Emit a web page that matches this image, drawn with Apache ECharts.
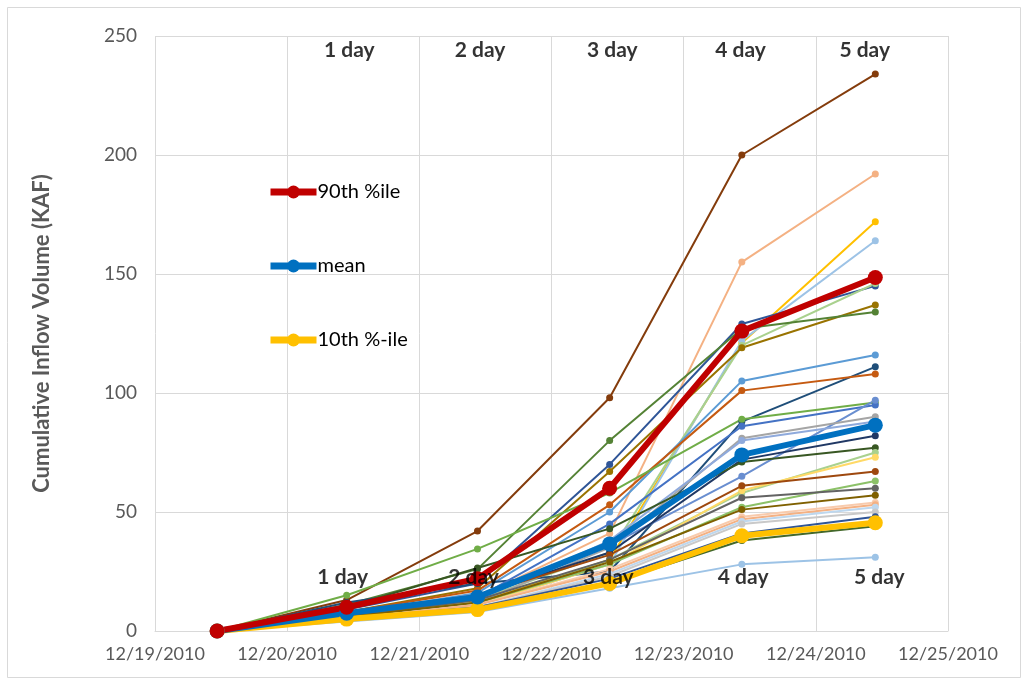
<!DOCTYPE html>
<html>
<head>
<meta charset="utf-8">
<script src="https://cdn.jsdelivr.net/npm/echarts@6/dist/echarts.min.js"></script>
<style>
  html, body { margin: 0; padding: 0; background: #fff; }
  #chart { width: 1029px; height: 685px; }
</style>
</head>
<body>
<div id="chart"></div>
<script>
// forecast times, in days after 12/19/2010 00:00
const xDays = [0.47, 1.45, 2.44, 3.44, 4.44, 5.45];
const dateLabels = ['12/19/2010', '12/20/2010', '12/21/2010', '12/22/2010', '12/23/2010', '12/24/2010', '12/25/2010'];

// ensemble members: cumulative inflow volume (KAF)
const members = [
  { color: '#843C0C', values: [0, 13, 42, 98, 200, 234] },
  { color: '#F4B183', values: [0, 6, 14, 41, 155, 192] },
  { color: '#FFC000', values: [0, 5, 12, 30, 121, 172] },
  { color: '#9DC3E6', values: [0, 5, 11, 28, 122, 164] },
  { color: '#2F5597', values: [0, 9, 20, 70, 129, 145] },
  { color: '#A9D18E', values: [0, 6, 13, 33, 120, 146] },
  { color: '#997300', values: [0, 8, 18, 67, 119, 137] },
  { color: '#548235', values: [0, 11, 26, 80, 127, 134] },
  { color: '#5B9BD5', values: [0, 7, 16, 50, 105, 116] },
  { color: '#1F4E79', values: [0, 12, 20, 25, 88, 111] },
  { color: '#C55A11', values: [0, 8, 17, 53, 101, 108] },
  { color: '#70AD47', values: [0, 15, 34.5, 58, 89, 96] },
  { color: '#4472C4', values: [0, 6, 14, 45, 86, 95] },
  { color: '#698ED0', values: [0, 6, 14, 36, 65, 97] },
  { color: '#A5A5A5', values: [0, 5, 12, 35, 81, 90] },
  { color: '#8FAADC', values: [0, 6, 13, 38, 80, 88] },
  { color: '#203864', values: [0, 7, 15, 33, 72, 82] },
  { color: '#385723', values: [0, 10, 26.5, 43, 71, 77] },
  { color: '#A9D18E', values: [0, 5, 11, 30, 58, 75] },
  { color: '#FFD966', values: [0, 5, 11, 28, 59, 73] },
  { color: '#9E480E', values: [0, 7, 15, 32, 61, 67] },
  { color: '#8CC168', values: [0, 6, 12, 28, 52, 63] },
  { color: '#636363', values: [0, 6, 13, 30, 56, 60] },
  { color: '#7F6000', values: [0, 6, 12, 29, 51, 57] },
  { color: '#F8CBAD', values: [0, 5, 11, 26, 48, 54] },
  { color: '#F4B183', values: [0, 5, 11, 25, 47, 53] },
  { color: '#BDD7EE', values: [0, 5, 10, 24, 46, 52] },
  { color: '#C9C9C9', values: [0, 5, 10, 23, 45, 50] },
  { color: '#2F5597', values: [0, 5, 10, 22, 41, 48] },
  { color: '#43682B', values: [0, 4.5, 9, 20, 38, 44] },
  { color: '#9DC3E6', values: [0, 4, 8, 18, 28, 31] }
];

// summary statistics
const p90 = [0, 10, 22, 60, 126, 148.5];
const meanVals = [0, 7.5, 14.3, 36.6, 74, 86.5];
const p10 = [0, 5, 9, 20, 40, 45.5];

// lead-time annotations
const dayLabels = ['1 day', '2 day', '3 day', '4 day', '5 day'];
const topLabelX = [1.47, 2.46, 3.46, 4.43, 5.37];
const topLabelY = 244;
const bottomLabelX = [1.42, 2.41, 3.43, 4.45, 5.48];
const bottomLabelY = 22.5;

const font = 'Lato, "Open Sans", sans-serif';
const myChart = echarts.init(document.getElementById('chart'));

function pairs(vals) {
  return vals.map((v, i) => [xDays[i], v]);
}

const series = members.map((m, i) => ({
  name: 'member' + i,
  type: 'line',
  data: pairs(m.values),
  symbol: 'circle',
  symbolSize: 7,
  lineStyle: { width: 2, color: m.color },
  itemStyle: { color: m.color },
  emphasis: { disabled: true },
  z: 2
}));

function statSeries(name, vals, color) {
  return {
    name: name,
    type: 'line',
    data: pairs(vals),
    symbol: 'circle',
    symbolSize: 15,
    lineStyle: { width: 6, color: color },
    itemStyle: { color: color },
    emphasis: { disabled: true },
    z: 3
  };
}

series.push(statSeries('10th %-ile', p10, '#FFC000'));
series.push(statSeries('mean', meanVals, '#0070C0'));
series.push(statSeries('90th %ile', p90, '#C00000'));

function labelSeries(xs, y) {
  return {
    type: 'scatter',
    symbolSize: 0,
    silent: true,
    z: 5,
    data: xs.map((x, i) => ({ value: [x, y], name: dayLabels[i] })),
    label: {
      show: true,
      position: 'inside',
      formatter: p => p.name,
      color: '#000',
      fontWeight: 'bold',
      fontSize: 21,
      fontFamily: font
    }
  };
}
series.push(labelSeries(topLabelX, topLabelY));
series.push(labelSeries(bottomLabelX, bottomLabelY));

const option = {
  backgroundColor: '#fff',
  animation: false,
  graphic: [{
    type: 'rect',
    shape: { x: 7.5, y: 7.5, width: 1013, height: 670 },
    style: { fill: 'none', stroke: '#d9d9d9', lineWidth: 1 },
    silent: true
  }],
  grid: { left: 155, right: 81, top: 36, bottom: 54 },
  legend: {
    data: ['90th %ile', 'mean', '10th %-ile'],
    orient: 'vertical',
    left: 262,
    top: 177,
    itemWidth: 46,
    itemHeight: 16,
    itemGap: 54,
    lineStyle: { width: 7 },
    textStyle: { fontSize: 20, color: '#000', fontFamily: font, padding: [0, 0, 0, -4] }
  },
  xAxis: {
    type: 'value',
    min: 0,
    max: 6,
    interval: 1,
    axisLine: { show: true, lineStyle: { color: '#d9d9d9' } },
    axisTick: { show: false },
    splitLine: { show: true, lineStyle: { color: '#d9d9d9', width: 1 } },
    axisLabel: {
      formatter: v => dateLabels[Math.round(v)],
      color: '#595959',
      fontSize: 18,
      fontFamily: font,
      margin: 14
    }
  },
  yAxis: {
    type: 'value',
    min: 0,
    max: 250,
    interval: 50,
    name: 'Cumulative Inflow Volume (KAF)',
    nameLocation: 'middle',
    nameGap: 102,
    nameTextStyle: { color: '#595959', fontSize: 22, fontWeight: 'bold', fontFamily: font },
    axisLine: { show: false },
    axisTick: { show: false },
    splitLine: { lineStyle: { color: '#d9d9d9', width: 1 } },
    axisLabel: { color: '#595959', fontSize: 19, fontFamily: font, margin: 18 }
  },
  series: series
};

myChart.setOption(option);
</script>
</body>
</html>
